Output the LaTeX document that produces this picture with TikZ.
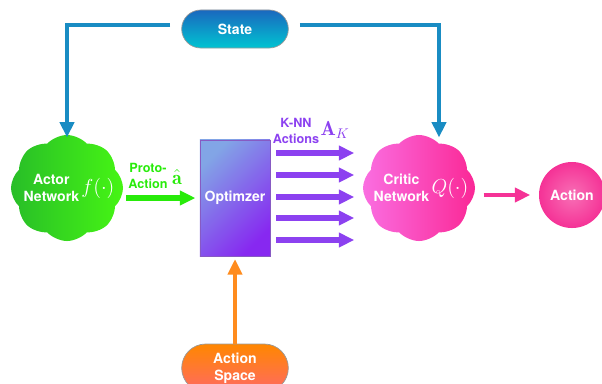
\documentclass[tikz,border=0pt]{standalone}
\usepackage{amsmath,amssymb}
\usepackage{fontspec}
\setsansfont{TeX Gyre Heros}
\usetikzlibrary{arrows.meta, positioning, shapes, calc}

\definecolor{statetop}{RGB}{26,104,190}
\definecolor{statebot}{RGB}{0,196,210}
\definecolor{stateline}{RGB}{25,140,195}
\definecolor{actorL}{RGB}{40,190,40}
\definecolor{actorR}{RGB}{70,245,20}
\definecolor{protogreen}{RGB}{40,235,10}
\definecolor{optA}{RGB}{130,165,230}
\definecolor{optB}{RGB}{135,40,240}
\definecolor{knnpurple}{RGB}{140,65,240}
\definecolor{criticL}{RGB}{250,110,225}
\definecolor{criticR}{RGB}{250,40,150}
\definecolor{actpink}{RGB}{245,50,150}
\definecolor{spacetop}{RGB}{255,135,0}
\definecolor{spacebot}{RGB}{255,105,100}
\definecolor{spaceline}{RGB}{255,140,30}

\begin{document}
\begin{tikzpicture}[x=0.025cm, y=-0.025cm,
    txt/.style={font=\sffamily\bfseries, text=white, align=center},
    pill/.style={txt, rounded rectangle, draw=gray!80, line width=0.5pt,
        minimum width=2.9cm, minimum height=0.95cm},
    netcloud/.style={cloud, cloud puffs=8, cloud puff arc=95, aspect=1.05,
        minimum width=2.8cm, minimum height=2.65cm, inner sep=0pt},
    conn/.style={line width=2.8pt, -{Triangle[length=11pt, width=10pt]}},
    knn/.style={line width=3.6pt, knnpurple, -{Triangle[length=11pt, width=10pt]}}]

    \useasboundingbox (0,0) rectangle (602,383);

    % Nodes
    \node[pill, top color=statetop, bottom color=statebot] (state) at (235,29) {State};
    \node[netcloud, left color=actorL, right color=actorR] (actor) at (67,188) {};
    \node[txt] (actortxt) at (69,190)
        {\begin{tabular}{@{}c@{}}Actor\\Network\end{tabular}\,{\Large$f(\cdot)$}};
    \node[txt, draw=knnpurple!60!gray, line width=0.4pt, minimum width=1.65cm,
        minimum height=2.9cm, left color=optA, right color=optB, shading angle=45]
        (opt) at (235,198) {Optimzer};
    \node[netcloud, left color=criticL, right color=criticR] (critic) at (419,188) {};
    \node[txt] (critictxt) at (421,190)
        {\begin{tabular}{@{}c@{}}Critic\\Network\end{tabular}\,{\Large$Q(\cdot)$}};
    \node[txt, circle, minimum size=1.65cm, inner color=actpink!70!white,
        outer color=actpink] (action) at (572,195) {Action};
    \node[pill, minimum height=1.2cm, top color=spacetop, bottom color=spacebot]
        (space) at (235,368) {Action\\Space};

    % Labels
    \node[font=\sffamily\bfseries\small, text=protogreen, align=center]
        (proto) at (148,176) {Proto-\\Action};
    \node[text=protogreen] (ahat) at (177,177) {\Large$\hat{\mathbf{a}}$};
    \node[font=\sffamily\bfseries\small, text=knnpurple, align=center]
        (knnlbl) at (296,131) {K-NN\\Actions};
    \node[text=knnpurple] (ak) at (335,130) {\Large$\mathbf{A}_K$};

    % State to both networks
    \draw[conn, stateline, shorten <=8pt]
        (state.west |- 0,25) -| ([yshift=-2pt]actor.north);
    \draw[conn, stateline, shorten <=8pt]
        (state.east |- 0,25) -| ([xshift=0.5cm, yshift=-2pt]critic.north);

    % Proto-action into optimizer
    \draw[conn, protogreen, line width=3.6pt, shorten <=2pt, shorten >=3pt]
        (actor.east |- opt) -- (opt.west);

    % K nearest neighbour actions
    \foreach \y in {153,175,197,218,240} {
        \draw[knn, shorten <=4pt, shorten >=6pt] (opt.east |- 0,\y) -- (critic.west |- 0,\y);
    }

    % Critic to chosen action
    \draw[conn, actpink, line width=3.4pt, shorten <=6pt, shorten >=6pt]
        (critic.east |- action) -- (action.west);

    % Action space into optimizer
    \draw[conn, spaceline, shorten >=2pt] (space.north) -- (opt.south);
\end{tikzpicture}
\end{document}
